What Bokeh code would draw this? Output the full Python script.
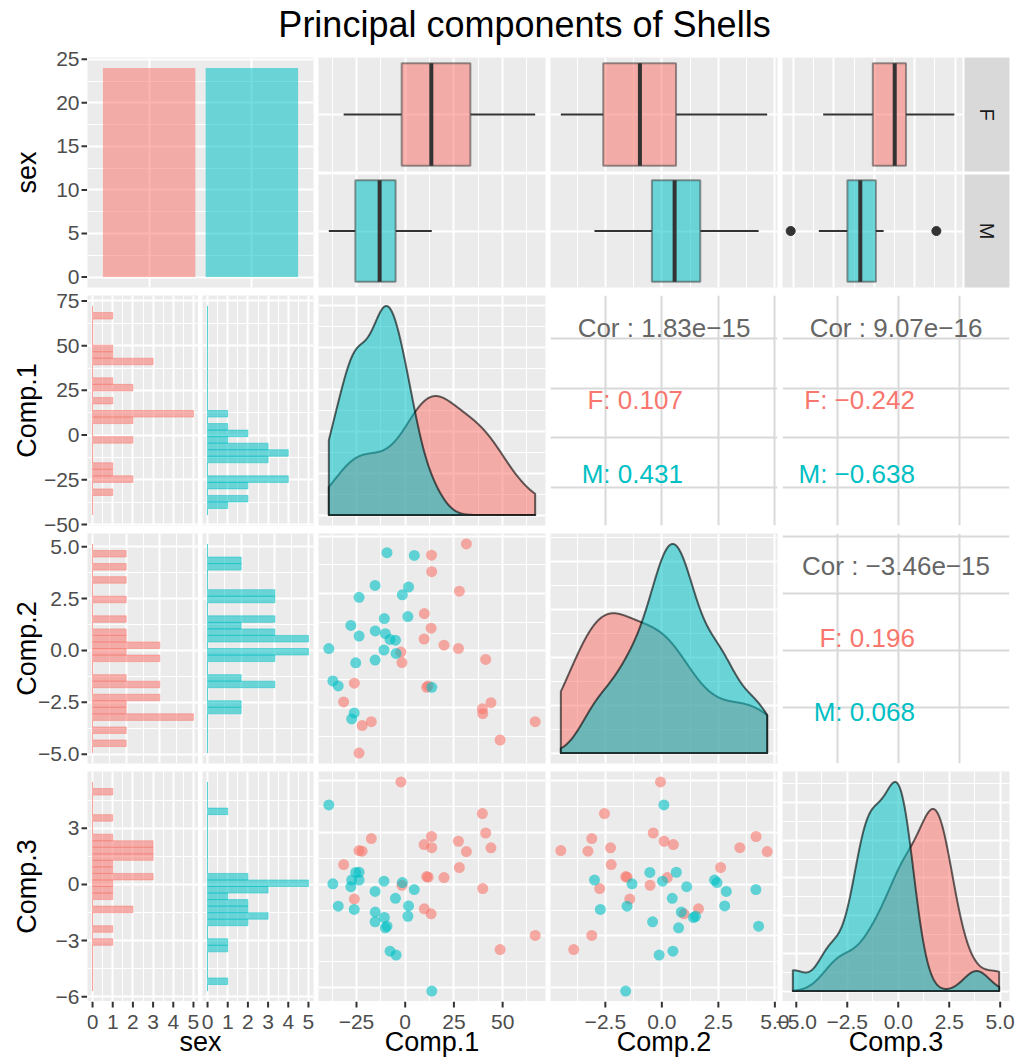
import numpy as np
from math import pi
from bokeh.plotting import figure
from bokeh.models import Range1d, FixedTicker, Grid
from bokeh.layouts import row, column
from bokeh.core.properties import value
from bokeh.embed import file_html
from bokeh.resources import INLINE

# ---------------- data ----------------
title_text = "Principal components of Shells"
sex_levels = ["F", "M"]
variables = ["Comp.1", "Comp.2", "Comp.3"]

F_comp1 = [-2.2, 39.6, 41.3, 13.5, -17.4, 27.3, 9.7, 13.6, 44.0, -23.7, -22.1, 31.4,
           -31.6, 27.8, 11.0, 11.8, 19.9, -1.7, 39.8, -26.1, 9.8, 13.3, 66.7, 48.7]
F_comp2 = [-0.06, -2.54, -0.38, 4.17, -3.10, 0.10, 0.51, 3.45, -2.27, -4.47, -3.27, 4.66,
           -2.24, 2.60, -1.60, -1.54, 0.24, -0.52, -2.75, -1.42, 1.62, 0.98, -3.10, -3.90]
F_comp3 = [4.95, 3.42, 2.48, 2.31, 2.21, 2.08, 1.92, 1.77, 1.76, 1.63, 1.60, 1.58,
           0.95, 0.81, 0.37, 0.34, 0.32, -0.05, -0.21, -0.72, -1.19, -1.43, -2.48, -3.16]
M_comp1 = [-9.33, 4.66, -15.46, 1.73, -23.66, -1.47, -10.71, 1.38, -27.89, -15.37, -23.66, -10.19,
           -7.77, -5.01, -39.2, -10.88, -4.66, -25.39, -15.46, -37.13, -34.37, 13.64, -26.17, -27.46]
M_comp2 = [4.28, 4.16, 2.85, 2.78, 2.33, 2.44, 1.40, 1.49, 1.10, 0.86, 0.64, 0.74,
           0.49, 0.46, 0.09, 0.03, -0.12, -0.53, -0.41, -1.32, -1.54, -1.60, -2.72, -2.98]
M_comp3 = [-2.03, -0.26, -0.35, -1.05, 0.20, 0.08, -1.61, -1.55, -0.12, -1.35, 0.58, -2.11,
           -3.24, -0.68, 3.84, 0.15, -3.43, 0.57, -1.82, 0.02, -1.06, -5.17, -1.22, 0.20]

cor_pairs = [("Comp.1", "Comp.2"), ("Comp.1", "Comp.3"), ("Comp.2", "Comp.3")]
cor_overall = ["1.83e\u221215", "9.07e\u221216", "\u22123.46e\u221215"]
cor_F = ["0.107", "\u22120.242", "0.196"]
cor_M = ["0.431", "\u22120.638", "0.068"]

axis_ticks = {"Comp.1": [-25, 0, 25, 50], "Comp.2": [-2.5, 0, 2.5, 5], "Comp.3": [-5, -2.5, 0, 2.5, 5]}
axis_tick_labels = {"Comp.1": ["\u221225", "0", "25", "50"],
                    "Comp.2": ["\u22122.5", "0.0", "2.5", "5.0"],
                    "Comp.3": ["\u22125.0", "\u22122.5", "0.0", "2.5", "5.0"]}
hist_ticks = {"Comp.1": [-50, -25, 0, 25, 50, 75], "Comp.2": [-5, -2.5, 0, 2.5, 5], "Comp.3": [-6, -3, 0, 3]}
hist_tick_labels = {"Comp.1": ["\u221250", "\u221225", "0", "25", "50", "75"],
                    "Comp.2": ["\u22125.0", "\u22122.5", "0.0", "2.5", "5.0"],
                    "Comp.3": ["\u22126", "\u22123", "0", "3"]}
cor_ticks = {"Comp.1": [-25, 0, 25, 50], "Comp.2": [-2.5, 0, 2.5, 5], "Comp.3": [-3, 0, 3]}
bar_ticks = [0, 5, 10, 15, 20, 25]

data = {"F": {"Comp.1": F_comp1, "Comp.2": F_comp2, "Comp.3": F_comp3},
        "M": {"Comp.1": M_comp1, "Comp.2": M_comp2, "Comp.3": M_comp3}}

# ---------------- style / layout ----------------
COL = {"F": "#F8766D", "M": "#00BFC4"}
FONT = "Liberation Sans"
BG = "#EBEBEB"
ALPHA = 0.55
TOTAL_W, TOTAL_H = 1015, 1057
TITLE_H = 57
LEFT_W = 87
RIGHT_W = TOTAL_W - LEFT_W
PW, PH = 227, 230
GAP, VG, RM = 5, 8, 6
C1W, FW, FG = 226, 111, 4
C4BOX, STRIP_GAP, STRIP_W = 180, 2, 45
FH1, FGAP1, FH2 = 114, 3, 113
GRID_H = 3 * (PH + VG) + PH
BOT_H = TOTAL_H - TITLE_H - GRID_H
TICK_FONT, TITLE_FONT = "21px", "27px"

# left edges of the four panel columns, measured inside the right-hand block
col_left = [0, C1W + GAP]
col_left += [col_left[1] + PW + GAP, col_left[1] + 2 * (PW + GAP)]
col_width = [C1W, PW, PW, PW]


def mk(fw, fh, xr, yr, bl=0, br=0, bt=0, bb=0, bg=BG):
    return figure(frame_width=fw, frame_height=fh, x_range=xr, y_range=yr,
                  x_axis_type=None, y_axis_type=None, output_backend="svg",
                  toolbar_location=None, min_border_left=bl, min_border_right=br,
                  min_border_top=bt, min_border_bottom=bb,
                  background_fill_color=bg, border_fill_color="white",
                  outline_line_color=None)


def minor_of(majors, lo, hi):
    if len(majors) < 2:
        return []
    st = majors[1] - majors[0]
    c = [majors[0] - st / 2] + [m + st / 2 for m in majors]
    return [x for x in c if lo < x < hi]


def add_grid(p, dim, majors, minor=True, color="white", w=2.0, wmin=1.0):
    r = p.x_range if dim == 0 else p.y_range
    lo, hi = r.start, r.end
    maj = [t for t in majors if lo <= t <= hi]
    mn = minor_of(majors, lo, hi) if minor else []
    g = Grid(dimension=dim, ticker=FixedTicker(ticks=maj, minor_ticks=mn),
             grid_line_color=color, grid_line_width=w,
             minor_grid_line_color=(color if mn else None), minor_grid_line_width=wmin)
    p.add_layout(g)


def mapped_range(lo, hi, p0, p1, total):
    s = (hi - lo) / (p1 - p0)
    start = lo - p0 * s
    return Range1d(start, start + total * s)


def kde(x, grid):
    x = np.asarray(x, float)
    n = len(x)
    sd = x.std(ddof=1)
    q75, q25 = np.percentile(x, [75, 25])
    lo = min(sd, (q75 - q25) / 1.34)
    bw = 0.9 * lo * n ** -0.2
    z = (grid[:, None] - x[None, :]) / bw
    return np.exp(-0.5 * z * z).sum(axis=1) / (n * bw * np.sqrt(2 * np.pi))


def nice_ticks(lo, hi, n=5):
    raw = (hi - lo) / n
    k = np.floor(np.log10(raw))
    best = None
    for q in (1, 2, 2.5, 5, 10):
        st = q * 10 ** k
        t0 = np.ceil(lo / st) * st
        ticks = list(np.arange(t0, hi + st * 1e-9, st))
        sc = abs(len(ticks) - n)
        if best is None or sc < best[0]:
            best = (sc, ticks)
    return [float(t) for t in best[1]]


def box_stats(x):
    x = np.sort(np.asarray(x, float))
    q1, med, q3 = np.percentile(x, [25, 50, 75])
    iqr = q3 - q1
    lf, hf = q1 - 1.5 * iqr, q3 + 1.5 * iqr
    ins = x[(x >= lf) & (x <= hf)]
    outs = x[(x < lf) | (x > hf)]
    return q1, med, q3, ins.min(), ins.max(), outs


allv = {v: np.array(data["F"][v] + data["M"][v], float) for v in variables}
rng = {}
for v in variables:
    lo, hi = allv[v].min(), allv[v].max()
    d = hi - lo
    rng[v] = (lo - 0.05 * d, hi + 0.05 * d)


def hist_data(v):
    lo, hi = allv[v].min(), allv[v].max()
    w = (hi - lo) / 29
    edges = lo - w / 2 + w * np.arange(-1, 32)
    cnt = {}
    for s in sex_levels:
        x = np.asarray(data[s][v], float)
        idx = np.clip(np.searchsorted(edges, x, side="left") - 1, 0, len(edges) - 2)
        cnt[s] = np.bincount(idx, minlength=len(edges) - 1)
    S = edges[-1] - edges[0]
    yr = (edges[0] - 0.05 * S, edges[-1] + 0.05 * S)
    maxc = int(max(c.max() for c in cnt.values()))
    xr = (-0.05 * maxc, 1.05 * maxc)
    return edges, cnt, yr, xr, maxc


hists = {v: hist_data(v) for v in variables}

# ---------------- row 1 ----------------
counts = [len(data[s]["Comp.1"]) for s in sex_levels]
cmax = max(counts)
bar_yr = (-0.05 * cmax, 1.05 * cmax)
pb = mk(C1W, PH, Range1d(0.4, 2.6), Range1d(*bar_yr), br=GAP, bb=VG)
add_grid(pb, 0, [1, 2], minor=False)
add_grid(pb, 1, bar_ticks)
pb.vbar(x=[1, 2], top=counts, width=0.9, fill_color=[COL[s] for s in sex_levels],
        fill_alpha=ALPHA, line_color=None)


def box_cell(u, fw, br):
    figs = []
    for i, s in enumerate(sex_levels):
        fh = FH1 if i == 0 else FH2
        bb = FGAP1 if i == 0 else VG
        p = mk(fw, fh, Range1d(*rng[u]), Range1d(0.5, 1.5), br=br, bb=bb)
        add_grid(p, 0, axis_ticks[u])
        add_grid(p, 1, [1], minor=False)
        q1, med, q3, wlo, whi, outs = box_stats(data[s][u])
        p.segment(x0=[wlo, q3], y0=[1, 1], x1=[q1, whi], y1=[1, 1],
                  line_color="#333333", line_width=2)
        p.quad(left=[q1], right=[q3], bottom=[0.55], top=[1.45], fill_color=COL[s],
               fill_alpha=ALPHA, line_color="#333333", line_alpha=0.5, line_width=2)
        p.segment(x0=[med], y0=[0.55], x1=[med], y1=[1.45], line_color="#333333", line_width=4)
        if len(outs):
            p.scatter(x=list(outs), y=[1] * len(outs), size=9, color="#333333")
        figs.append(p)
    return column(*figs)


def strip_cell():
    figs = []
    for i, s in enumerate(sex_levels):
        fh = FH1 if i == 0 else FH2
        bb = FGAP1 if i == 0 else VG
        p = mk(STRIP_W, fh, Range1d(0, 1), Range1d(0, 1), br=RM, bb=bb, bg="#D9D9D9")
        p.text(x=[0.5], y=[0.5], text=[s], angle=-pi / 2, text_align="center",
               text_baseline="middle", text_font=value(FONT), text_font_size="20px",
               text_color="#1A1A1A")
        figs.append(p)
    return column(*figs)


row1 = row(pb, box_cell("Comp.1", PW, GAP), box_cell("Comp.2", PW, GAP),
           box_cell("Comp.3", C4BOX, STRIP_GAP), strip_cell())


# ---------------- rows 2-4 ----------------
def hist_cell(v, bb):
    edges, cnt, yr, xr, maxc = hists[v]
    cticks = list(range(0, maxc + 1))
    figs = []
    for i, s in enumerate(sex_levels):
        p = mk(FW, PH, Range1d(*xr), Range1d(*yr), bl=(0 if i == 0 else FG),
               br=(0 if i == 0 else GAP), bb=bb)
        add_grid(p, 0, cticks)
        add_grid(p, 1, hist_ticks[v])
        p.quad(left=np.zeros(len(cnt[s])), right=cnt[s], bottom=edges[:-1], top=edges[1:],
               fill_color=COL[s], fill_alpha=ALPHA, line_color=COL[s], line_alpha=0.45,
               line_width=1)
        figs.append(p)
    return row(*figs)


def diag_cell(v, br, bb):
    lo, hi = allv[v].min(), allv[v].max()
    gx = np.linspace(lo, hi, 512)
    dens = {s: kde(data[s][v], gx) for s in sex_levels}
    ymax = max(d.max() for d in dens.values())
    p = mk(PW, PH, Range1d(*rng[v]), Range1d(-0.05 * ymax, 1.05 * ymax), br=br, bb=bb)
    add_grid(p, 0, axis_ticks[v])
    add_grid(p, 1, nice_ticks(0, 1.05 * ymax))
    for s in sex_levels:
        p.patch(x=np.concatenate([[lo], gx, [hi]]), y=np.concatenate([[0], dens[s], [0]]),
                fill_color=COL[s], fill_alpha=ALPHA, line_color="black", line_alpha=0.6,
                line_width=2, line_join="round")
    return p


def scatter_cell(u, v, br, bb):
    p = mk(PW, PH, Range1d(*rng[u]), Range1d(*rng[v]), br=br, bb=bb)
    add_grid(p, 0, axis_ticks[u])
    add_grid(p, 1, axis_ticks[v])
    for s in sex_levels:
        p.scatter(x=data[s][u], y=data[s][v], size=11, fill_color=COL[s], fill_alpha=0.6,
                  line_color=None)
    return p


def cor_cell(u, v, k, br, bb):
    p = mk(PW, PH, Range1d(*rng[u]), Range1d(*rng[v]), br=br, bb=bb, bg="white")
    add_grid(p, 0, cor_ticks[u], minor=False, color="#D9D9D9", w=2)
    add_grid(p, 1, cor_ticks[v], minor=False, color="#D9D9D9", w=2)
    x0, x1 = rng[u]
    y0, y1 = rng[v]
    xm = (x0 + x1) / 2
    p.text(x=[xm], y=[y0 + 0.86 * (y1 - y0)], text=["Cor : " + cor_overall[k]],
           text_align="center", text_baseline="middle", text_font=value(FONT),
           text_font_size="26px", text_color="#666666")
    xr_ = xm + 0.083 * (x1 - x0)
    p.text(x=[xr_, xr_], y=[y0 + 0.545 * (y1 - y0), y0 + 0.225 * (y1 - y0)],
           text=["F: " + cor_F[k], "M: " + cor_M[k]], text_color=[COL["F"], COL["M"]],
           text_align="right", text_baseline="middle", text_font=value(FONT),
           text_font_size="26px")
    return p


rows = [row1]
for ri, v in enumerate(variables):
    last = ri == len(variables) - 1
    bb = 0 if last else VG
    cells = [hist_cell(v, bb)]
    for ci, u in enumerate(variables):
        br = RM if ci == len(variables) - 1 else GAP
        if ci == ri:
            cells.append(diag_cell(v, br, bb))
        elif ci < ri:
            cells.append(scatter_cell(u, v, br, bb))
        else:
            cells.append(cor_cell(u, v, cor_pairs.index((v, u)), br, bb))
    rows.append(row(*cells))

# ---------------- left strip (full height): y tick marks, tick labels, row titles ----------------
ls = mk(LEFT_W, TOTAL_H, Range1d(0, LEFT_W), Range1d(0, TOTAL_H), bg="white")
row_ranges = [bar_yr] + [hists[v][2] for v in variables]
row_ticks = [(bar_ticks, [str(t) for t in bar_ticks])] + \
            [(hist_ticks[v], hist_tick_labels[v]) for v in variables]
row_titles = ["sex"] + variables


def row_bottom(r):
    return TOTAL_H - (TITLE_H + r * (PH + VG)) - PH


ls.extra_y_ranges = {f"r{r}": mapped_range(row_ranges[r][0], row_ranges[r][1],
                                            row_bottom(r), row_bottom(r) + PH, TOTAL_H)
                     for r in range(4)}
for r in range(4):
    lo, hi = row_ranges[r]
    tk = [(t, l) for t, l in zip(*row_ticks[r]) if lo <= t <= hi]
    ty = [t for t, _ in tk]
    ls.segment(x0=[LEFT_W - 6] * len(ty), x1=[LEFT_W] * len(ty), y0=ty, y1=ty,
               y_range_name=f"r{r}", line_color="#333333", line_width=2)
    ls.text(x=[LEFT_W - 8] * len(ty), y=ty, text=[l for _, l in tk], y_range_name=f"r{r}",
            text_align="right", text_baseline="middle", text_font=value(FONT),
            text_font_size=TICK_FONT, text_color="#4D4D4D")
    ls.text(x=[26], y=[(lo + hi) / 2], text=[row_titles[r]], angle=pi / 2, y_range_name=f"r{r}",
            text_align="center", text_baseline="middle", text_font=value(FONT),
            text_font_size=TITLE_FONT, text_color="black")

# ---------------- bottom strip: x tick marks, tick labels, column titles ----------------
bs = mk(RIGHT_W, BOT_H, Range1d(0, RIGHT_W), Range1d(0, BOT_H), bg="white")
_, _, _, cxr, cmaxc = hists[variables[-1]]
cnt_ticks = list(range(0, cmaxc + 1))
bottom_panels = [
    ("c1F", cxr, col_left[0], col_left[0] + FW, cnt_ticks, [str(t) for t in cnt_ticks]),
    ("c1M", cxr, col_left[0] + FW + FG, col_left[0] + 2 * FW + FG, cnt_ticks, [str(t) for t in cnt_ticks]),
]
for ci, u in enumerate(variables):
    L = col_left[ci + 1]
    bottom_panels.append((f"c{ci + 2}", rng[u], L, L + PW, axis_ticks[u], axis_tick_labels[u]))
bs.extra_x_ranges = {nm: mapped_range(r_[0], r_[1], p0, p1, RIGHT_W)
                     for nm, r_, p0, p1, _, _ in bottom_panels}
for nm, r_, p0, p1, tks, lbs in bottom_panels:
    tk = [(t, l) for t, l in zip(tks, lbs) if r_[0] <= t <= r_[1]]
    tx = [t for t, _ in tk]
    bs.segment(x0=tx, x1=tx, y0=[BOT_H] * len(tx), y1=[BOT_H - 6] * len(tx), x_range_name=nm,
               line_color="#333333", line_width=2)
    bs.text(x=tx, y=[BOT_H - 20] * len(tx), text=[l for _, l in tk], x_range_name=nm,
            text_align="center", text_baseline="middle", text_font=value(FONT),
            text_font_size=TICK_FONT, text_color="#4D4D4D")
bs.text(x=[l + w / 2 for l, w in zip(col_left, col_width)], y=[16] * 4, text=["sex"] + variables,
        text_align="center", text_baseline="middle", text_font=value(FONT),
        text_font_size=TITLE_FONT, text_color="black")

# ---------------- title ----------------
tf = mk(RIGHT_W, TITLE_H, Range1d(0, RIGHT_W), Range1d(0, TITLE_H), bg="white")
tf.text(x=[524 - LEFT_W], y=[TITLE_H - 24], text=[title_text], text_align="center",
        text_baseline="middle", text_font=value(FONT), text_font_size="36px", text_color="black")

layout = row(ls, column(tf, column(*rows), bs))
open("out.html", "w").write(file_html(layout, INLINE, title=title_text))
